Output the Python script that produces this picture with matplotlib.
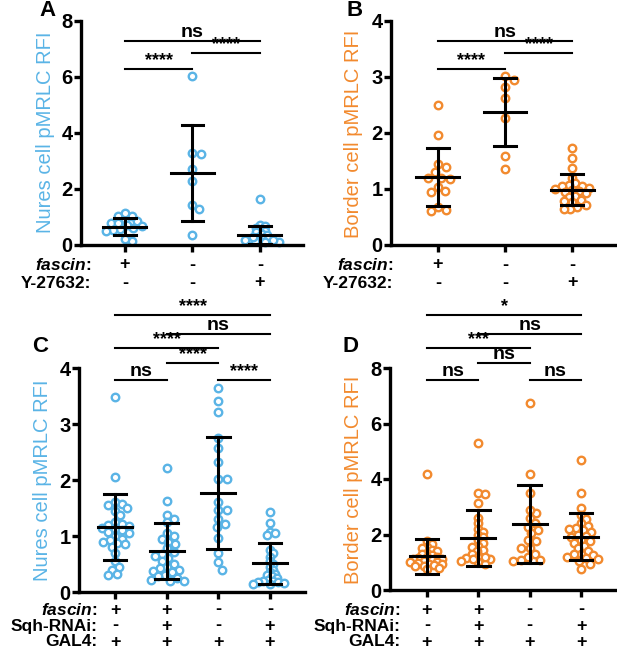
import numpy as np
import matplotlib
matplotlib.use('Agg')
from matplotlib import pyplot as plt

plt.rcParams['font.family'] = ['Liberation Sans', 'DejaVu Sans']
plt.rcParams['mathtext.fontset'] = 'custom'
plt.rcParams['mathtext.rm'] = 'Liberation Sans:bold'
plt.rcParams['mathtext.bfit'] = 'Liberation Sans:italic:bold'

BLUE = '#5AB4E6'
ORANGE = '#F28A2E'

# ---- data ----
# panel A : nurse cells, fascin / Y-27632
a_vals = [
    [0.92, 0.62, 0.80, 1.03, 1.15, 0.87, 0.58, 0.80, 0.55, 0.15, 0.22, 0.68, 0.70, 0.50, 1.05],
    [6.03, 3.29, 3.25, 2.73, 2.30, 1.43, 1.27, 0.36],
    [1.64, 0.70, 0.68, 0.62, 0.55, 0.50, 0.45, 0.40, 0.35, 0.30, 0.25,
     0.22, 0.20, 0.18, 0.15, 0.12, 0.12, 0.15, 0.18, 0.28],
]
a_mean = [0.66, 2.58, 0.36]
a_sd = [0.30, 1.72, 0.33]

# panel B : border cells, fascin / Y-27632
b_vals = [
    [2.50, 1.96, 1.45, 1.40, 1.31, 1.20, 1.20, 1.18, 0.96, 0.95, 1.04, 0.60, 0.68, 0.63],
    [2.94, 3.01, 2.82, 2.63, 2.26, 1.59, 1.35],
    [1.74, 1.55, 1.37, 1.20, 1.10, 1.08, 1.06, 1.05, 1.02, 1.00, 0.98, 0.97, 0.95, 0.92,
     0.88, 0.85, 0.80, 0.78, 0.76, 0.72, 0.68, 0.65, 0.64],
]
b_mean = [1.21, 2.38, 0.99]
b_sd = [0.52, 0.61, 0.27]

# panel C : nurse cells, Sqh-RNAi
c_vals = [
    [3.49, 2.05, 1.60, 1.58, 1.55, 1.50, 1.45, 1.38, 1.25, 1.22, 1.20, 1.18, 1.15, 1.12,
     1.10, 1.08, 1.05, 1.00, 0.95, 0.92, 0.90, 0.88, 0.85, 0.80, 0.70, 0.55, 0.45, 0.40,
     0.32, 0.30],
    [2.21, 1.63, 1.38, 1.30, 1.25, 1.05, 1.00, 0.95, 0.90, 0.85, 0.78, 0.72, 0.68, 0.65,
     0.60, 0.55, 0.50, 0.45, 0.42, 0.40, 0.38, 0.35, 0.30, 0.28, 0.25, 0.22, 0.20, 0.20],
    [3.64, 3.41, 3.21, 2.75, 2.57, 2.33, 2.01, 2.01, 1.61, 1.46, 1.46, 1.31, 1.22, 1.16,
     0.96, 0.69, 0.54, 0.40],
    [1.43, 1.24, 1.07, 1.05, 1.02, 0.75, 0.70, 0.62, 0.55, 0.50, 0.45, 0.40, 0.35, 0.32,
     0.30, 0.28, 0.25, 0.22, 0.20, 0.20, 0.18, 0.17, 0.16, 0.15, 0.15],
]
c_mean = [1.16, 0.73, 1.76, 0.51]
c_sd = [0.59, 0.50, 1.00, 0.37]

# panel D : border cells, Sqh-RNAi
d_vals = [
    [4.17, 1.75, 1.65, 1.55, 1.50, 1.45, 1.40, 1.35, 1.30, 1.25, 1.20, 1.18, 1.15, 1.12,
     1.10, 1.08, 1.05, 1.02, 1.00, 0.98, 0.95, 0.92, 0.90, 0.88, 0.85, 0.80, 0.75],
    [5.28, 3.48, 3.45, 3.15, 2.60, 2.40, 2.20, 2.10, 2.00, 1.90, 1.80, 1.70, 1.60, 1.55,
     1.45, 1.40, 1.30, 1.20, 1.15, 1.10, 1.05, 1.00, 0.95, 1.10, 1.20],
    [6.74, 4.17, 3.48, 2.76, 2.90, 2.60, 2.40, 2.28, 2.16, 2.05, 1.80, 1.75, 1.50, 1.50,
     1.30, 1.20, 1.08, 1.08, 1.05],
    [4.68, 3.48, 2.97, 2.70, 2.55, 2.40, 2.30, 2.25, 2.20, 2.15, 2.10, 2.00, 1.95, 1.90,
     1.80, 1.75, 1.70, 1.60, 1.50, 1.40, 1.30, 1.28, 1.25, 1.20, 1.15, 1.10, 1.05, 0.95,
     0.75],
]
d_mean = [1.22, 1.89, 2.37, 1.92]
d_sd = [0.63, 1.01, 1.41, 0.85]

# significance brackets: (group i, group j, height, label)
a_sig = [(1, 3, 7.29, 'ns'), (2, 3, 6.86, '****'), (1, 2, 6.29, '****')]
b_sig = [(1, 3, 3.64, 'ns'), (2, 3, 3.43, '****'), (1, 2, 3.14, '****')]
c_sig = [(1, 4, 4.95, '****'), (2, 4, 4.61, 'ns'), (1, 3, 4.36, '****'),
         (2, 3, 4.09, '****'), (1, 2, 3.79, 'ns'), (3, 4, 3.79, '****')]
d_sig = [(1, 4, 9.91, '*'), (2, 4, 9.23, 'ns'), (1, 3, 8.72, '***'),
         (2, 3, 8.18, 'ns'), (1, 2, 7.57, 'ns'), (3, 4, 7.57, 'ns')]

# genotype table under the x axis
ab_rows = ['fascin', 'Y-27632']
ab_signs = [['+', '-', '-'], ['-', '-', '+']]
cd_rows = ['fascin', 'Sqh-RNAi', 'GAL4']
cd_signs = [['+', '+', '-', '-'], ['-', '+', '-', '+'], ['+', '+', '+', '+']]

W, H = 617, 650
fig = plt.figure(figsize=(W / 100, H / 100), dpi=100)


def px_axes(l, r, t, b):
    return fig.add_axes([l / W, 1 - b / H, (r - l) / W, (b - t) / H])


def swarm_once(pix, order, d, md):
    placed = []
    offs = np.zeros(len(pix))
    for i in order:
        y = pix[i, 1]
        k = 0
        while True:
            off = ((k + 1) // 2) * (1 if k % 2 else -1) * d * 0.2 if k else 0.0
            x = pix[i, 0] + off
            if all((x - a) ** 2 + (y - b) ** 2 >= md ** 2 for a, b in placed):
                break
            k += 1
        placed.append((x, y))
        offs[i] = off
    return offs


def swarm(ax, xc, vals, d, limit):
    # beeswarm in pixel space, squeezed until it fits inside +-limit px
    order = np.argsort(vals)[::-1]
    pix = ax.transData.transform([(xc, v) for v in vals])
    md = 0.95 * d
    while True:
        offs = swarm_once(pix, order, d, md)
        if np.abs(offs).max() <= limit or md < 0.3 * d:
            break
        md -= 0.05 * d
    inv = ax.transData.inverted()
    return np.array([inv.transform((pix[i, 0] + offs[i], pix[i, 1]))[0]
                     for i in range(len(vals))])


def panel(ax, vals, mean, sd, color, ylim, yticks, ylabel, sig, xlim,
          mean_hw, cap_hw, limit, letter, letter_xy, label_xy):
    ax.set_xlim(*xlim)
    ax.set_ylim(*ylim)
    for s in ['top', 'right']:
        ax.spines[s].set_visible(False)
    for s in ['left', 'bottom']:
        ax.spines[s].set_linewidth(2.4)
    n = len(vals)
    ax.set_xticks(range(1, n + 1))
    ax.set_xticklabels([])
    ax.set_yticks(yticks)
    ax.set_yticklabels([str(t) for t in yticks], fontsize=14.5, fontweight='bold')
    ax.tick_params(width=2.4, length=5, pad=1)
    d_px = 8.5
    for i in range(n):
        xc = i + 1
        xs = swarm(ax, xc, vals[i], d_px, limit)
        ax.plot(xs, vals[i], 'o', mfc='white', mec=color, ms=5.4, mew=1.7,
                zorder=2, clip_on=False)
        m, s = mean[i], sd[i]
        ax.plot([xc - mean_hw, xc + mean_hw], [m, m], color='black', lw=2.2, zorder=3)
        ax.plot([xc, xc], [max(m - s, 0), m + s], color='black', lw=2.2, zorder=3)
        ax.plot([xc - cap_hw, xc + cap_hw], [m + s, m + s], color='black', lw=2.2, zorder=3)
        if m - s > 0:
            ax.plot([xc - cap_hw, xc + cap_hw], [m - s, m - s], color='black', lw=2.2, zorder=3)
    for g1, g2, h, lab in sig:
        ax.plot([g1, g2], [h, h], color='black', lw=1.5, clip_on=False)
        if lab == 'ns':
            ax.text((g1 + g2) / 2, h, lab, ha='center', va='bottom', fontsize=14,
                    fontweight='bold')
        else:
            ax.text((g1 + g2) / 2, h, lab, ha='center', va='bottom', fontsize=13,
                    fontweight='bold', linespacing=0.5)
    fig.text(letter_xy[0] / W, 1 - letter_xy[1] / H, letter, fontsize=16,
             fontweight='bold', ha='center', va='center')
    fig.text(label_xy[0] / W, 1 - label_xy[1] / H, ylabel, fontsize=14.5,
             color=color, rotation=90, ha='center', va='center')


def table(ax, rows, signs, row_px, label_right):
    for r, (name, sg) in enumerate(zip(rows, signs)):
        y = 1 - row_px[r] / H
        if name == 'fascin':
            txt = r'$\mathbfit{fascin}$:'
        else:
            txt = name + ':'
        fig.text(label_right / W, y, txt, fontsize=12.5, fontweight='bold',
                 ha='right', va='center')
        for i, s in enumerate(sg):
            xd = ax.transData.transform((i + 1, 0))[0]
            fig.text(xd / W, y, s, fontsize=13, fontweight='bold', ha='center',
                     va='center')


axA = px_axes(81, 303, 21, 245)
panel(axA, a_vals, a_mean, a_sd, BLUE, (0, 8), [0, 2, 4, 6, 8],
      'Nures cell pMRLC RFI', a_sig, (0.35, 3.64), 0.32, 0.16, 21,
      'A', (47, 10), (46, 132))
table(axA, ab_rows, ab_signs, [265, 283], 91)

axB = px_axes(391, 615, 21, 245)
panel(axB, b_vals, b_mean, b_sd, ORANGE, (0, 4), [0, 1, 2, 3, 4],
      'Border cell pMRLC RFI', b_sig, (0.30, 3.64), 0.32, 0.16, 21,
      'B', (355, 10), (354, 134))
table(axB, ab_rows, ab_signs, [265, 283], 393)

axC = px_axes(79, 305, 368, 592)
panel(axC, c_vals, c_mean, c_sd, BLUE, (0, 4), [0, 1, 2, 3, 4],
      'Nures cell pMRLC RFI', c_sig, (0.30, 4.68), 0.33, 0.22, 17,
      'C', (40, 347), (43, 480))
table(axC, cd_rows, cd_signs, [610, 626, 642], 97)

axD = px_axes(390, 617, 368, 590)
panel(axD, d_vals, d_mean, d_sd, ORANGE, (0, 8), [0, 2, 4, 6, 8],
      'Border cell pMRLC RFI', d_sig, (0.28, 4.70), 0.33, 0.22, 17,
      'D', (351, 347), (354, 480))
table(axD, cd_rows, cd_signs, [610, 626, 642], 400)

plt.savefig('out.png', dpi=100)
